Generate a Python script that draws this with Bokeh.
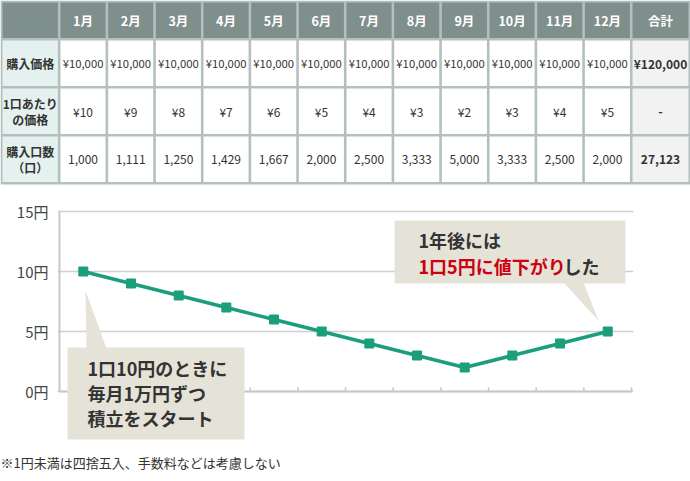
from bokeh.plotting import figure
from bokeh.models import Range1d, FixedTicker
from bokeh.core.properties import value
from bokeh.embed import file_html
from bokeh.resources import INLINE

# ---------------- data ----------------
months = ["1月", "2月", "3月", "4月", "5月", "6月", "7月", "8月", "9月", "10月", "11月", "12月"]
purchase_price = [10000, 10000, 10000, 10000, 10000, 10000, 10000, 10000, 10000, 10000, 10000, 10000]
unit_price = [10, 9, 8, 7, 6, 5, 4, 3, 2, 3, 4, 5]
units_bought = [1000, 1111, 1250, 1429, 1667, 2000, 2500, 3333, 5000, 3333, 2500, 2000]
total_header = "合計"
total_purchase = 120000
total_unit_price = "-"
total_units = 27123
row_labels = [["購入価格"], ["1口あたり", "の価格"], ["購入口数", "（口）"]]
y_ticks = [0, 5, 10, 15]
y_tick_labels = ["0円", "5円", "10円", "15円"]
note_start = ["1口10円のときに", "毎月1万円ずつ", "積立をスタート"]
note_end_line1 = "1年後には"
note_end_red = "1口5円に値下がり"
note_end_tail = "した"
footnote = "※1円未満は四捨五入、手数料などは考慮しない"

# ---------------- styles ----------------
FONT = "Noto Sans CJK JP"
W = 690
HEAD_BG = "#7f8f8c"
LABEL_BG = "#e4f1ee"
TOTAL_BG = "#f2f2f2"
BORDER = "#b4c0be"
TXT = "#333333"
GREEN = "#1b9e7c"
RED = "#cc0011"
CALLOUT = "#e5e3d8"
AXIS = "#c8c8c8"


def tfont(**kw):
    d = dict(text_font=value(FONT), text_baseline="middle", text_align="center", text_color=TXT)
    d.update(kw)
    return d


# ---------------- table ----------------
tbl = figure(width=W, height=185, x_range=Range1d(0, W), y_range=Range1d(185, 0),
             output_backend="svg", toolbar_location=None, tools="",
             x_axis_location=None, y_axis_location=None, min_border=0,
             outline_line_color=None, background_fill_color="white", border_fill_color="white")
tbl.grid.visible = False

col_w = 47.67
col_b = [0.7, 58.7] + [58.7 + col_w * (i + 1) for i in range(len(months))] + [689.3]
row_b = [0.7, 38.7, 86.7, 134.7, 182.7]
ncol = len(col_b) - 1
nrow = len(row_b) - 1

tbl.quad(left=0, right=W, top=0, bottom=184, fill_color=BORDER, line_color=None)

L, R, T, B, C = [], [], [], [], []
for r in range(nrow):
    for c in range(ncol):
        L.append(col_b[c] + 1.3)
        R.append(col_b[c + 1] - 1.3)
        T.append(row_b[r] + 1.3)
        B.append(row_b[r + 1] - 1.3)
        if r == 0:
            C.append(HEAD_BG)
        elif c == 0:
            C.append(LABEL_BG)
        elif c == ncol - 1:
            C.append(TOTAL_BG)
        else:
            C.append("white")
tbl.quad(left=L, right=R, top=T, bottom=B, fill_color=C, line_color=None)

cxs = [(col_b[c] + col_b[c + 1]) / 2 for c in range(ncol)]
rys = [(row_b[r] + row_b[r + 1]) / 2 for r in range(nrow)]

# header
hdr = months + [total_header]
tbl.text(x=cxs[1:], y=[rys[0]] * len(hdr), text=hdr,
         **tfont(text_font_size="12.5px", text_font_style="bold", text_color="white"))

# row labels
lx, ly, lt = [], [], []
for r, lines in enumerate(row_labels):
    n = len(lines)
    for k, s in enumerate(lines):
        lx.append(cxs[0])
        ly.append(rys[r + 1] + (k - (n - 1) / 2) * 16)
        lt.append(s)
tbl.text(x=lx, y=ly, text=lt, **tfont(text_font_size="12px", text_font_style="bold"))

# values
vals_rows = [
    ["¥{:,}".format(v) for v in purchase_price],
    ["¥{}".format(v) for v in unit_price],
    ["{:,}".format(v) for v in units_bought],
]
val_sizes = ["11.3px", "12px", "12px"]
for r, vals in enumerate(vals_rows):
    tbl.text(x=cxs[1:1 + len(vals)], y=[rys[r + 1]] * len(vals), text=vals,
             **tfont(text_font_size=val_sizes[r]))

totals = ["¥{:,}".format(total_purchase), total_unit_price, "{:,}".format(total_units)]
tbl.text(x=[cxs[-1]] * 3, y=rys[1:], text=totals,
         **tfont(text_font_size="12px", text_font_style="bold"))

# ---------------- chart ----------------
PX = 47.67  # px per month


def cx(px):
    return (px - 59.0) / PX


def cy(py):
    return (391.0 - py) / 12.0


ch = figure(width=W, height=265, x_range=Range1d(cx(57), cx(633)), y_range=Range1d(cy(450), cy(185)),
            output_backend="svg", toolbar_location=None, tools="", x_axis_location=None,
            min_border_left=57, min_border_right=57, min_border_top=0, min_border_bottom=0,
            outline_line_color=None, background_fill_color="white", border_fill_color="white")
ch.xgrid.visible = False
ch.yaxis.ticker = FixedTicker(ticks=y_ticks)
ch.yaxis.major_label_overrides = {t: s for t, s in zip(y_ticks, y_tick_labels)}
ch.yaxis.axis_line_color = None
ch.yaxis.major_tick_line_color = None
ch.yaxis.minor_tick_line_color = None
ch.yaxis.major_tick_in = 0
ch.yaxis.major_tick_out = 0
ch.yaxis.major_label_standoff = 9
ch.yaxis.major_label_text_font = FONT
ch.yaxis.major_label_text_font_size = "15px"
ch.yaxis.major_label_text_color = "#444444"
ch.ygrid.grid_line_color = "#cfcfcf"
ch.ygrid.grid_line_width = 1.5

n = len(months)
xs = [i + 0.5 for i in range(n)]

# axes lines
ch.segment(x0=[0], y0=[0], x1=[0], y1=[max(y_ticks)], line_color=AXIS, line_width=2)
ch.segment(x0=[0], y0=[0], x1=[n], y1=[0], line_color=AXIS, line_width=2)
ch.segment(x0=list(range(1, n + 1)), y0=[0] * n, x1=list(range(1, n + 1)), y1=[0.35] * n,
           line_color=AXIS, line_width=1.5)

# series
ch.line(x=xs, y=unit_price, line_color=GREEN, line_width=3.5)
ch.scatter(x=xs, y=unit_price, marker="square", size=9, fill_color=GREEN, line_color=GREEN)

# callout 1 (start)
ch.quad(left=[cx(67)], right=[cx(244)], top=[cy(347)], bottom=[cy(439)], fill_color=CALLOUT, line_color=None)
ch.patch(x=[cx(86), cx(106), cx(85)], y=[cy(348), cy(348), cy(290)], fill_color=CALLOUT, line_color=None)
ch.text(x=[cx(87)] * 3, y=[cy(367), cy(392), cy(417)], text=note_start,
        **tfont(text_font_size="18px", text_font_style="bold", text_align="left"))

# callout 2 (end)
ch.quad(left=[cx(394)], right=[cx(625)], top=[cy(220)], bottom=[cy(283)], fill_color=CALLOUT, line_color=None)
ch.patch(x=[cx(563), cx(583), cx(598)], y=[cy(282), cy(282), cy(320)], fill_color=CALLOUT, line_color=None)
ch.text(x=[cx(418)], y=[cy(239)], text=[note_end_line1],
        **tfont(text_font_size="18px", text_font_style="bold", text_align="left"))
ch.text(x=[cx(418)], y=[cy(265)], text=[note_end_red],
        **tfont(text_font_size="18px", text_font_style="bold", text_align="left", text_color=RED))
ch.text(x=[cx(563)], y=[cy(265)], text=[note_end_tail],
        **tfont(text_font_size="18px", text_font_style="bold", text_align="left"))

# ---------------- footnote ----------------
ft = figure(width=W, height=31, x_range=Range1d(0, W), y_range=Range1d(31, 0),
            output_backend="svg", toolbar_location=None, tools="",
            x_axis_location=None, y_axis_location=None, min_border=0,
            outline_line_color=None, background_fill_color="white", border_fill_color="white")
ft.grid.visible = False
ft.text(x=[0], y=[12], text=[footnote], **tfont(text_font_size="13px", text_align="left"))

# separate roots so the frames are not aligned with each other
open("out.html", "w").write(file_html([tbl, ch, ft], INLINE))
